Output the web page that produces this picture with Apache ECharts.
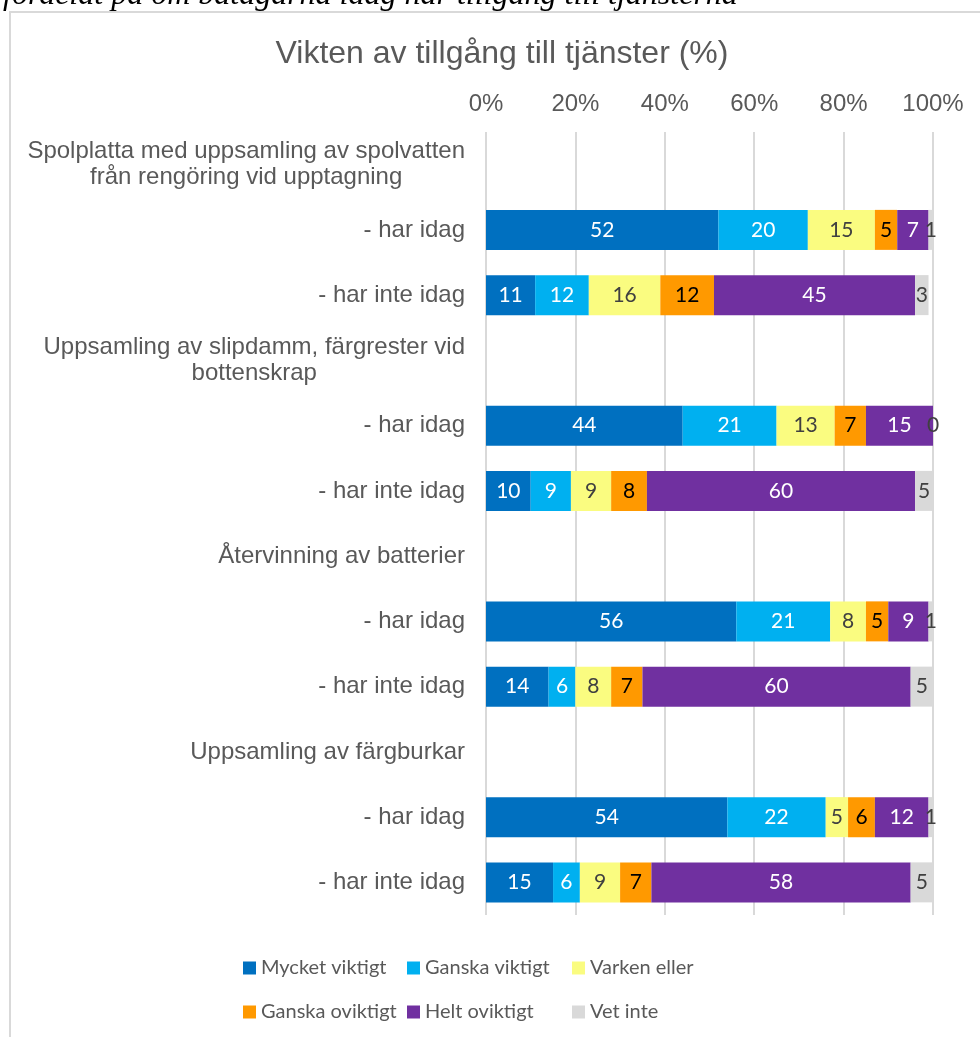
<!DOCTYPE html>
<html>
<head>
<meta charset="utf-8">
<script src="https://cdn.jsdelivr.net/npm/echarts@6/dist/echarts.min.js"></script>
<style>
  html, body { margin: 0; padding: 0; background: #fff; }
  #chart { width: 980px; height: 1037px; }
</style>
</head>
<body>
<div id="chart"></div>
<script>
// rows: header rows have no bars (null)
const categories = [
  'Spolplatta med uppsamling av spolvatten\nfrån rengöring vid upptagning',
  '- har idag',
  '- har inte idag',
  'Uppsamling av slipdamm, färgrester vid\nbottenskrap',
  '- har idag',
  '- har inte idag',
  'Återvinning av batterier',
  '- har idag',
  '- har inte idag',
  'Uppsamling av färgburkar',
  '- har idag',
  '- har inte idag'
];

const mycketViktigt = [null, 52, 11, null, 44, 10, null, 56, 14, null, 54, 15];
const ganskaViktigt = [null, 20, 12, null, 21, 9, null, 21, 6, null, 22, 6];
const varkenEller = [null, 15, 16, null, 13, 9, null, 8, 8, null, 5, 9];
const ganskaOviktigt = [null, 5, 12, null, 7, 8, null, 5, 7, null, 6, 7];
const heltOviktigt = [null, 7, 45, null, 15, 60, null, 9, 60, null, 12, 58];
const vetInte = [null, 1, 3, null, 0, 5, null, 1, 5, null, 1, 5];

const xTicks = [0, 20, 40, 60, 80, 100];

const seriesDefs = [
  { name: 'Mycket viktigt', data: mycketViktigt, color: '#0070C0', labelColor: '#ffffff' },
  { name: 'Ganska viktigt', data: ganskaViktigt, color: '#00B0F0', labelColor: '#ffffff' },
  { name: 'Varken eller', data: varkenEller, color: '#FAFC80', labelColor: '#404040' },
  { name: 'Ganska oviktigt', data: ganskaOviktigt, color: '#FF9900', labelColor: '#000000' },
  { name: 'Helt oviktigt', data: heltOviktigt, color: '#7030A0', labelColor: '#ffffff' },
  { name: 'Vet inte', data: vetInte, color: '#D9D9D9', labelColor: '#404040' }
];

const labelFont = 'Liberation Sans, Arial, sans-serif';
const dataFont = 'Lato, Noto Sans, sans-serif';

// legend sits in a fixed 3-column grid, like the Excel original
const legendCols = [243, 407, 572];
const legendRows = [958, 1002];

let chart = echarts.init(document.getElementById('chart'));

chart.setOption({
  animation: false,
  backgroundColor: '#ffffff',
  title: {
    text: 'Vikten av tillgång till tjänster (%)',
    left: 497,
    textAlign: 'center',
    top: 33,
    textStyle: {
      fontFamily: labelFont,
      fontSize: 32,
      fontWeight: 'normal',
      color: '#595959'
    }
  },
  graphic: [
    {
      type: 'text',
      left: 3,
      top: -20,
      style: {
        text: 'fördelat på om båtägarna idag har tillgång till tjänsterna',
        font: 'italic 32px "Liberation Serif", "Times New Roman", serif',
        fill: '#000000'
      }
    },
    {
      type: 'polyline',
      shape: { points: [[10, 1037], [10, 12], [980, 12]] },
      style: { stroke: '#D9D9D9', lineWidth: 2, fill: null }
    }
  ],
  legend: seriesDefs.map((s, i) => ({
    data: [s.name],
    left: legendCols[i % 3],
    top: legendRows[Math.floor(i / 3)],
    padding: 0,
    icon: 'rect',
    itemWidth: 13,
    itemHeight: 13,
    textStyle: { fontFamily: dataFont, fontSize: 20, color: '#595959' }
  })),
  grid: {
    left: 486,
    right: 47,
    top: 132,
    height: 783
  },
  xAxis: {
    type: 'value',
    position: 'top',
    min: xTicks[0],
    max: xTicks[xTicks.length - 1],
    interval: xTicks[1] - xTicks[0],
    axisLine: { show: false },
    axisTick: { show: false },
    axisLabel: {
      formatter: '{value}%',
      fontFamily: labelFont,
      fontSize: 24,
      color: '#595959',
      margin: 16
    },
    splitLine: { lineStyle: { color: '#D9D9D9', width: 2 } }
  },
  yAxis: {
    type: 'category',
    inverse: true,
    data: categories,
    axisLine: { show: false },
    axisTick: { show: false },
    axisLabel: {
      margin: 21,
      fontFamily: labelFont,
      fontSize: 24,
      color: '#595959',
      lineHeight: 26,
      formatter: function (v) {
        if (v.indexOf('\n') < 0) return v;
        return v.split('\n').map(l => '{h|' + l + '}').join('\n');
      },
      rich: {
        h: {
          align: 'center',
          fontFamily: labelFont,
          fontSize: 24,
          color: '#595959',
          lineHeight: 26
        }
      }
    }
  },
  series: seriesDefs.map(s => ({
    name: s.name,
    type: 'bar',
    stack: 'total',
    barWidth: 40,
    data: s.data,
    itemStyle: { color: s.color },
    label: {
      show: true,
      position: 'inside',
      color: s.labelColor,
      fontFamily: dataFont,
      fontSize: 21,
      formatter: p => (p.value == null ? '' : String(p.value))
    },
    color: s.color
  }))
});
</script>
</body>
</html>
